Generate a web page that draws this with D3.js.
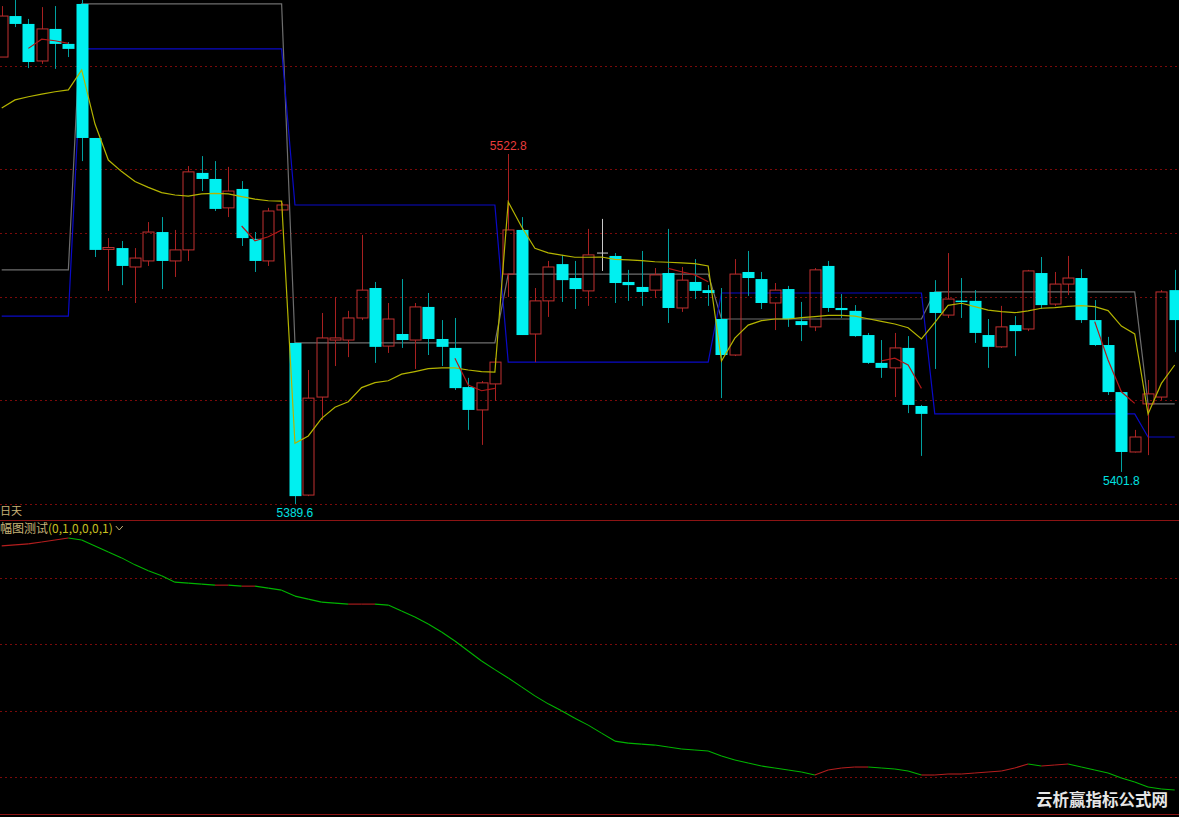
<!DOCTYPE html>
<html>
<head>
<meta charset="utf-8">
<script src="https://cdn.jsdelivr.net/npm/d3@7"></script>
<style>
  body { margin: 0; background: #000; overflow: hidden; }
  svg { display: block; }
</style>
</head>
<body>
<svg id="chart"></svg>
<script>
// ---- data ----
var opens = [
  5559.7, 5575.3, 5572.3, 5558.2, 5570.4, 5564.7, 5579.9, 5528.9, 5486.5, 5487.0,
  5479.8, 5482.1, 5493.1, 5482.1, 5486.3, 5515.6, 5513.3, 5502.3, 5509.5, 5490.5,
  5482.1, 5501.5, 5450.9, 5393.0, 5430.3, 5452.0, 5452.0, 5460.4, 5471.8, 5449.7,
  5454.3, 5452.0, 5464.6, 5452.4, 5449.0, 5434.1, 5425.4, 5435.3, 5477.1, 5493.9,
  5454.3, 5466.9, 5480.9, 5475.6, 5470.7, 5485.1, 5484.0, 5474.1, 5472.2, 5471.0,
  5477.5, 5464.2, 5474.1, 5471.0, 5460.0, 5446.3, 5477.9, 5475.2, 5466.1, 5471.4,
  5459.2, 5457.0, 5480.2, 5464.2, 5463.1, 5453.9, 5443.3, 5441.4, 5449.0, 5426.9,
  5470.3, 5461.5, 5467.0, 5466.9, 5453.9, 5449.4, 5457.7, 5456.2, 5477.5, 5465.7,
  5473.3, 5475.6, 5459.6, 5450.1, 5432.2, 5409.4, 5427.7, 5430.3, 5471.0
];
var highs = [
  5579.1, 5581.4, 5574.2, 5578.7, 5579.1, 5565.4, 5582.0, 5528.9, 5490.8, 5489.7,
  5487.0, 5496.9, 5498.8, 5493.9, 5518.2, 5522.0, 5520.1, 5517.9, 5512.5, 5493.1,
  5502.3, 5504.2, 5450.9, 5440.6, 5462.3, 5468.4, 5463.1, 5492.0, 5474.1, 5466.1,
  5475.2, 5466.1, 5469.9, 5459.6, 5460.4, 5437.6, 5436.4, 5445.2, 5522.8, 5498.8,
  5471.8, 5482.1, 5484.4, 5482.1, 5494.3, 5498.1, 5485.1, 5478.7, 5485.9, 5479.4,
  5494.3, 5479.8, 5482.8, 5472.9, 5471.8, 5482.8, 5485.9, 5477.9, 5473.7, 5472.6,
  5466.5, 5479.4, 5482.1, 5469.5, 5465.3, 5454.7, 5452.0, 5454.7, 5453.5, 5427.3,
  5474.8, 5485.1, 5475.6, 5471.0, 5460.0, 5465.0, 5461.1, 5478.7, 5483.6, 5477.9,
  5484.0, 5479.0, 5467.2, 5453.2, 5432.2, 5417.8, 5436.8, 5471.0, 5478.7
];
var lows = [
  5559.7, 5571.1, 5555.5, 5557.1, 5555.2, 5559.7, 5520.1, 5483.6, 5470.7, 5472.9,
  5466.1, 5480.2, 5471.4, 5476.0, 5482.1, 5508.7, 5501.1, 5498.8, 5487.8, 5477.9,
  5480.2, 5497.7, 5389.6, 5392.6, 5421.6, 5442.1, 5445.5, 5459.6, 5443.3, 5447.1,
  5449.0, 5441.0, 5446.3, 5442.1, 5433.0, 5417.8, 5412.1, 5428.8, 5468.4, 5453.9,
  5443.6, 5460.8, 5466.5, 5463.8, 5465.0, 5478.3, 5466.1, 5466.9, 5465.0, 5468.0,
  5458.5, 5462.7, 5467.6, 5465.0, 5429.9, 5445.9, 5468.8, 5463.8, 5455.8, 5457.0,
  5451.6, 5455.4, 5462.7, 5460.4, 5453.2, 5442.9, 5437.6, 5430.3, 5424.2, 5407.9,
  5441.0, 5460.4, 5460.4, 5450.9, 5441.4, 5449.0, 5445.9, 5455.4, 5463.8, 5465.0,
  5469.1, 5458.5, 5449.7, 5431.1, 5401.8, 5409.2, 5408.2, 5429.2, 5447.4
];
var closes = [
  5575.3, 5572.3, 5557.8, 5570.4, 5564.7, 5562.8, 5528.9, 5486.3, 5487.2, 5480.2,
  5483.2, 5493.1, 5482.1, 5486.3, 5516.0, 5513.3, 5501.9, 5508.7, 5490.8, 5482.1,
  5501.1, 5503.4, 5392.6, 5429.9, 5452.8, 5452.8, 5460.4, 5471.0, 5449.4, 5460.0,
  5452.0, 5464.6, 5452.4, 5449.4, 5433.7, 5425.4, 5435.7, 5443.6, 5493.9, 5453.9,
  5466.9, 5479.8, 5474.8, 5471.4, 5484.4, 5485.1, 5473.7, 5472.9, 5470.3, 5476.8,
  5464.2, 5474.8, 5470.7, 5469.9, 5446.3, 5477.1, 5475.6, 5466.1, 5471.0, 5460.0,
  5457.7, 5478.7, 5464.2, 5463.4, 5453.5, 5443.3, 5441.4, 5449.0, 5427.3, 5423.9,
  5462.3, 5467.6, 5466.5, 5454.7, 5449.4, 5457.0, 5455.4, 5478.3, 5465.3, 5473.3,
  5475.6, 5459.6, 5450.1, 5432.2, 5409.4, 5415.1, 5431.5, 5470.3, 5459.6
];

// running average line (yellow), resets each period
var avgLine = [
  5540.3, 5543.4, 5544.6, 5545.6, 5546.5, 5547.2, 5554.8, 5534.2, 5520.5, 5516.1,
  5512.3, 5510.1, 5508.1, 5507.2, 5506.8, 5507.6, 5507.8, 5507.6, 5506.6, 5505.6,
  5505.0, 5504.9, 5412.7, 5415.5, 5422.2, 5426.4, 5428.5, 5433.9, 5435.8, 5436.5,
  5439.0, 5440.0, 5441.1, 5441.4, 5441.4, 5440.6, 5440.0, 5439.8, 5504.6, 5495.1,
  5486.9, 5485.2, 5484.3, 5483.5, 5483.5, 5483.6, 5482.7, 5482.5, 5482.2, 5481.8,
  5481.6, 5481.4, 5481.1, 5480.2, 5444.0, 5452.7, 5457.7, 5459.4, 5460.0, 5460.0,
  5460.5, 5460.9, 5461.4, 5461.4, 5461.1, 5460.1, 5459.1, 5458.1, 5456.7, 5452.4,
  5458.6, 5465.2, 5466.0, 5464.7, 5463.4, 5462.8, 5462.4, 5463.1, 5464.1, 5464.3,
  5464.8, 5465.1, 5464.7, 5463.2, 5457.3, 5454.3, 5423.9, 5435.5, 5442.5
];

// period step lines
var periodStarts = [0, 6, 22, 38, 54, 70, 86];
var periodOpen   = [5478.7, 5579.9, 5450.9, 5477.1, 5460.0, 5470.3, 5427.7];
var prevClose    = [5461.1, 5562.8, 5503.4, 5443.6, 5469.9, 5423.9, 5415.1];

// short red tails at the end of each period
var tailStarts = [2, 18, 34, 50, 66, 82];
var tailValues = [
  [5563.0, 5566.5, 5565.9, 5564.9],
  [5495.4, 5489.8, 5491.3, 5493.9],
  [5445.1, 5434.9, 5432.7, 5433.6],
  [5479.3, 5478.0, 5476.8, 5474.2],
  [5444.1, 5445.1, 5442.5, 5433.6],
  [5459.0, 5444.4, 5432.3, 5427.9]
];

var priceGrid = [5556.3, 5517.1, 5492.7, 5468.4, 5429.2, 5389.6];

var markIndex = [38, 22, 84];
var markValue = [5522.8, 5389.6, 5401.8];
var markIsHigh = [true, false, false];

// lower panel: amplitude indicator
var ampValues = [
  89.5, 89.8, 90.1, 90.7, 91.3, 91.9, 91.3, 89.5, 87.7, 85.9,
  83.8, 82.0, 80.5, 78.6, 78.3, 78.0, 77.7, 77.7, 77.4, 77.4,
  76.8, 76.2, 74.4, 73.5, 72.6, 72.3, 72.0, 72.0, 72.0, 71.7,
  69.9, 68.1, 66.0, 63.6, 60.9, 57.9, 54.9, 52.3, 49.8, 47.1,
  44.4, 42.0, 39.9, 37.7, 35.6, 33.2, 30.8, 30.2, 29.9, 29.6,
  29.0, 28.4, 28.1, 27.8, 26.3, 25.1, 24.2, 23.3, 22.7, 22.1,
  21.5, 20.6, 22.1, 22.7, 23.0, 23.0, 22.7, 22.4, 21.8, 20.6,
  20.6, 20.9, 20.9, 21.2, 21.5, 21.8, 22.7, 23.9, 23.3, 23.6,
  23.9, 23.0, 22.1, 21.2, 19.7, 18.5, 17.0, 16.4, 16.1
];
var ampGrid = [80, 60, 40, 20];

// ---- chart ----
var W = 1179, H = 817;
var svg = d3.select('#chart').attr('width', W).attr('height', H);

var x = d3.scaleLinear().domain([0, opens.length - 1]).range([1.7, 1174.7]);
var y = d3.scaleLinear().domain([5389.6, 5522.8]).range([504, 154]);
var yAmp = d3.scaleLinear().domain([0, 100]).range([843.5, 511]);
var half = 5.5;

svg.append('rect').attr('width', W).attr('height', H).attr('fill', '#000');

var upper = svg.append('g');
upper.append('clipPath').attr('id', 'topclip')
  .append('rect').attr('x', 0).attr('y', 0).attr('width', W).attr('height', 519);

// grid
upper.selectAll('line.grid')
  .data(priceGrid)
  .enter().append('line')
  .attr('class', 'grid')
  .attr('x1', 0).attr('x2', W)
  .attr('y1', function(d) { return Math.round(y(d)) + 0.5; })
  .attr('y2', function(d) { return Math.round(y(d)) + 0.5; })
  .attr('stroke', '#7a0a0a')
  .attr('stroke-dasharray', '2,3');

var idx = d3.range(opens.length);
function periodOf(i) { return d3.bisectRight(periodStarts, i) - 1; }

var plot = upper.append('g').attr('clip-path', 'url(#topclip)');

var line = d3.line()
  .x(function(d) { return x(d[0]); })
  .y(function(d) { return y(d[1]); });

plot.append('path')
  .datum(idx.map(function(i) { return [i, periodOpen[periodOf(i)]]; }))
  .attr('d', line)
  .attr('fill', 'none')
  .attr('stroke', '#6e6e6e')
  .attr('stroke-width', 1.2);

plot.append('path')
  .datum(idx.map(function(i) { return [i, prevClose[periodOf(i)]]; }))
  .attr('d', line)
  .attr('fill', 'none')
  .attr('stroke', '#0a0ac8')
  .attr('stroke-width', 1.2);

// candles
var candles = plot.selectAll('g.candle')
  .data(idx)
  .enter().append('g')
  .attr('class', 'candle');

candles.each(function(i) {
  var g = d3.select(this),
      o = opens[i], c = closes[i],
      cx = Math.round(x(i)) + 0.5,
      yTop = y(Math.max(o, c)),
      yBot = y(Math.min(o, c));
  if (c > o) {
    g.append('line').attr('x1', cx).attr('x2', cx)
      .attr('y1', y(highs[i])).attr('y2', yTop).attr('stroke', '#a82020');
    g.append('line').attr('x1', cx).attr('x2', cx)
      .attr('y1', yBot).attr('y2', y(lows[i])).attr('stroke', '#a82020');
    g.append('rect')
      .attr('x', cx - half).attr('y', yTop)
      .attr('width', half * 2).attr('height', Math.max(1, yBot - yTop))
      .attr('fill', 'none').attr('stroke', '#c03030');
  } else if (c < o) {
    g.append('line').attr('x1', cx).attr('x2', cx)
      .attr('y1', y(highs[i])).attr('y2', y(lows[i])).attr('stroke', '#00a0a0');
    g.append('rect')
      .attr('x', cx - half - 0.5).attr('y', yTop)
      .attr('width', half * 2 + 1).attr('height', Math.max(1.5, yBot - yTop))
      .attr('fill', '#00f0f0');
  } else {
    g.append('line').attr('x1', cx).attr('x2', cx)
      .attr('y1', y(highs[i])).attr('y2', y(lows[i])).attr('stroke', '#c8c8c8');
    g.append('line').attr('x1', cx - half).attr('x2', cx + half)
      .attr('y1', yTop).attr('y2', yTop).attr('stroke', '#c8c8c8');
  }
});

// yellow average
plot.append('path')
  .datum(idx.map(function(i) { return [i, avgLine[i]]; }))
  .attr('d', line)
  .attr('fill', 'none')
  .attr('stroke', '#b4b400')
  .attr('stroke-width', 1.2);

// red tails
plot.selectAll('path.tail')
  .data(tailStarts)
  .enter().append('path')
  .attr('class', 'tail')
  .attr('d', function(s, k) {
    return line(tailValues[k].map(function(v, j) { return [s + j, v]; }));
  })
  .attr('fill', 'none')
  .attr('stroke', '#b01818')
  .attr('stroke-width', 1.2);

// extreme marks
upper.selectAll('text.mark')
  .data(markIndex)
  .enter().append('text')
  .attr('class', 'mark')
  .attr('x', function(d) { return x(d); })
  .attr('y', function(d, k) { return markIsHigh[k] ? y(highs[d]) - 4 : y(lows[d]) + 13; })
  .attr('text-anchor', 'middle')
  .attr('font-family', 'Liberation Sans, Arial, sans-serif')
  .attr('font-size', 12)
  .attr('fill', function(d, k) { return markIsHigh[k] ? '#e83c3c' : '#00e0e0'; })
  .text(function(d, k) { return markValue[k].toFixed(1); });

// header text of the period row
upper.append('text')
  .attr('x', 0).attr('y', 515)
  .attr('font-family', 'Noto Sans CJK SC, sans-serif')
  .attr('font-size', 11)
  .attr('fill', '#c8b478')
  .text('日天');

// ---- lower panel ----
var lower = svg.append('g');

lower.selectAll('line.agrid')
  .data(ampGrid)
  .enter().append('line')
  .attr('class', 'agrid')
  .attr('x1', 0).attr('x2', W)
  .attr('y1', function(d) { return Math.round(yAmp(d)) + 0.5; })
  .attr('y2', function(d) { return Math.round(yAmp(d)) + 0.5; })
  .attr('stroke', '#7a0a0a')
  .attr('stroke-dasharray', '2,3');

lower.append('line')
  .attr('x1', 0).attr('x2', W).attr('y1', 520.5).attr('y2', 520.5)
  .attr('stroke', '#8c1414');
lower.append('line')
  .attr('x1', 0).attr('x2', W).attr('y1', 814.5).attr('y2', 814.5)
  .attr('stroke', '#8c1414');

var ampLine = d3.line()
  .x(function(d) { return x(d); })
  .y(function(d) { return yAmp(ampValues[d]); });

lower.selectAll('path.amp')
  .data(idx.slice(0, -1))
  .enter().append('path')
  .attr('class', 'amp')
  .attr('d', function(i) { return ampLine([i, i + 1]); })
  .attr('fill', 'none')
  .attr('stroke', function(i) { return ampValues[i + 1] >= ampValues[i] ? '#b41e1e' : '#00b400'; })
  .attr('stroke-width', 1.1);

var title = lower.append('text')
  .attr('x', 0).attr('y', 533)
  .attr('font-family', 'Noto Sans CJK SC, sans-serif')
  .attr('font-size', 12);
title.append('tspan').attr('fill', '#c8b478').text('幅图测试');
title.append('tspan').attr('fill', '#c8c020').text('(0,1,0,0,0,1)');

var tx = title.node().getComputedTextLength() + 3;
lower.append('path')
  .attr('d', 'M' + tx + ',526 L' + (tx + 3.5) + ',530 L' + (tx + 7) + ',526')
  .attr('fill', 'none')
  .attr('stroke', '#c8b478');

// watermark
svg.append('text')
  .attr('x', 1168).attr('y', 806)
  .attr('text-anchor', 'end')
  .attr('font-family', 'Noto Sans CJK SC, sans-serif')
  .attr('font-weight', 'bold')
  .attr('font-size', 16.5)
  .attr('fill', '#e6e6e6')
  .text('云析赢指标公式网');
</script>
</body>
</html>
